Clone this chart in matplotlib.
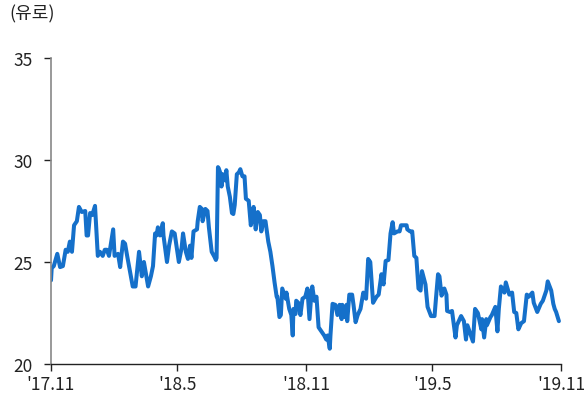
import numpy as np
import matplotlib
matplotlib.use("Agg")
import matplotlib.pyplot as plt

plt.rcParams['font.family'] = ['Noto Sans CJK KR', 'DejaVu Sans']

# days since 2017-11-01
days = [0, 1, 4, 9, 13, 17, 21, 24, 27, 30, 33, 37, 40, 44, 49, 51, 53, 56, 59, 63,
        67, 70, 74, 77, 80, 83, 89, 91, 96, 99, 103, 106, 109, 113, 117, 121, 126, 130, 133, 136,
        139, 143, 146, 149, 151, 153, 156, 160, 161, 166, 169, 173, 177, 180, 183, 187, 189, 193, 196, 199,
        201, 204, 209, 210, 213, 216, 217, 221, 224, 226, 230, 234, 236, 237, 239, 240, 243, 244, 246, 249,
        251, 253, 256, 259, 261, 263, 266, 269, 271, 274, 277, 279, 283, 286, 287, 290, 293, 296, 299, 301,
        304, 307, 309, 311, 314, 317, 320, 323, 324, 327, 329, 331, 336, 337, 341, 344, 346, 347, 350, 351,
        354, 357, 360, 364, 367, 370, 373, 374, 377, 380, 383, 387, 391, 394, 396, 399, 400, 403, 407, 410,
        413, 416, 417, 420, 423, 424, 427, 431, 433, 436, 439, 443, 447, 451, 454, 457, 461, 466, 469, 473,
        476, 479, 483, 486, 489, 491, 496, 499, 501, 506, 509, 510, 514, 517, 520, 523, 526, 529, 531, 536,
        539, 544, 549, 551, 554, 556, 559, 563, 566, 567, 571, 574, 579, 581, 587, 591, 594, 596, 600, 604,
        607, 611, 616, 617, 620, 623, 624, 629, 631, 636, 639, 641, 644, 649, 651, 656, 660, 663, 666, 669,
        673, 677, 681, 684, 689, 691, 696, 701, 704, 709, 711, 716, 719, 721, 723, 727]

values = [24.1, 24.7, 24.8, 25.4, 24.75, 24.8, 25.6, 25.5, 26.0, 25.5, 26.8, 27.0, 27.7, 27.45, 27.5, 26.3, 26.3, 27.4, 27.3, 27.75,
          25.3, 25.5, 25.3, 25.6, 25.6, 25.3, 26.6, 25.3, 25.4, 24.75, 26.0, 25.9, 25.3, 24.55, 23.8, 23.8, 25.5, 24.3, 25.0, 24.4,
          23.8, 24.3, 24.8, 26.4, 26.3, 26.7, 26.3, 26.9, 26.3, 25.0, 25.8, 26.5, 26.4, 25.7, 25.0, 25.7, 26.4, 25.5, 25.15, 25.8,
          25.2, 26.5, 26.6, 27.0, 27.7, 27.6, 27.0, 27.6, 27.5, 26.7, 25.5, 25.25, 25.1, 25.2, 29.65, 29.6, 29.3, 28.7, 29.3, 29.0,
          29.5, 28.7, 28.2, 27.4, 27.35, 27.8, 29.3, 29.4, 29.55, 29.2, 29.2, 28.1, 28.0, 26.8, 27.0, 27.7, 26.6, 27.45, 27.3, 26.5,
          27.0, 27.0, 26.5, 26.0, 25.5, 24.8, 24.0, 23.3, 23.3, 22.3, 22.4, 23.7, 23.2, 23.5, 22.7, 22.4, 21.4, 22.7, 22.45, 23.1,
          23.0, 22.4, 23.2, 23.3, 23.7, 22.2, 23.6, 23.8, 23.1, 23.3, 21.8, 21.6, 21.4, 21.2, 21.4, 20.75, 21.4, 22.95, 22.9, 22.4,
          22.9, 22.2, 22.9, 22.3, 22.9, 22.1, 23.4, 23.4, 22.9, 22.05, 22.4, 22.7, 23.5, 23.2, 25.15, 25.0, 23.0, 23.3, 23.4, 24.4,
          23.9, 25.05, 25.1, 26.4, 26.95, 26.4, 26.5, 26.5, 26.8, 26.8, 26.8, 26.6, 26.5, 26.5, 25.3, 25.2, 23.7, 23.6, 24.55, 23.9,
          22.8, 22.35, 22.35, 23.2, 24.4, 24.3, 23.35, 23.7, 23.4, 22.6, 22.55, 22.6, 21.3, 21.9, 22.35, 22.1, 21.2, 21.9, 21.5, 21.1,
          22.7, 22.5, 21.7, 22.2, 21.3, 22.2, 21.9, 22.3, 22.4, 22.8, 21.6, 22.7, 23.8, 23.5, 24.0, 23.4, 23.5, 22.55, 22.5, 21.7,
          22.0, 22.1, 23.4, 23.3, 23.5, 23.0, 22.55, 22.95, 23.1, 23.6, 24.05, 23.6, 22.95, 22.7, 22.55, 22.1]

start = np.datetime64('2017-11-01')
dates = start + np.array(days).astype('timedelta64[D]')

xtick_dates = ['2017-11-01', '2018-05-01', '2018-11-01', '2019-05-01', '2019-11-01']
xtick_labels = ["'17.11", "'18.5", "'18.11", "'19.5", "'19.11"]
yticks = [20, 25, 30, 35]
unit_label = '(유로)'

fig = plt.figure(figsize=(5.85, 4.02), dpi=100)
ax = fig.add_axes([51/585, 37/402, 510/585, 306/402])

ax.plot(dates, values, color='#1570CA', linewidth=2.9,
        solid_joinstyle='round', solid_capstyle='round')

ax.set_xlim(np.datetime64(xtick_dates[0]), np.datetime64(xtick_dates[-1]))
ax.set_ylim(20, 35)
ax.set_xticks([np.datetime64(d) for d in xtick_dates])
ax.set_xticklabels(xtick_labels)
ax.set_yticks(yticks)
ax.set_yticklabels([str(v) for v in yticks])

for s in ['top', 'right']:
    ax.spines[s].set_visible(False)
ax.spines['left'].set_color('#888888')
ax.spines['left'].set_linewidth(1.2)
ax.spines['bottom'].set_color('#222222')
ax.spines['bottom'].set_linewidth(1.0)

ax.tick_params(axis='y', direction='out', length=5, width=1, color='#222222',
               labelsize=12.5, pad=8, labelcolor='#222222')
ax.tick_params(axis='x', direction='out', length=5, width=1, color='#222222',
               labelsize=12.5, pad=3, labelcolor='#222222')

fig.text(9/585, 1 - 14/402, unit_label, fontsize=13, color='#222222',
         ha='left', va='center')

fig.savefig('out.png', dpi=100)
